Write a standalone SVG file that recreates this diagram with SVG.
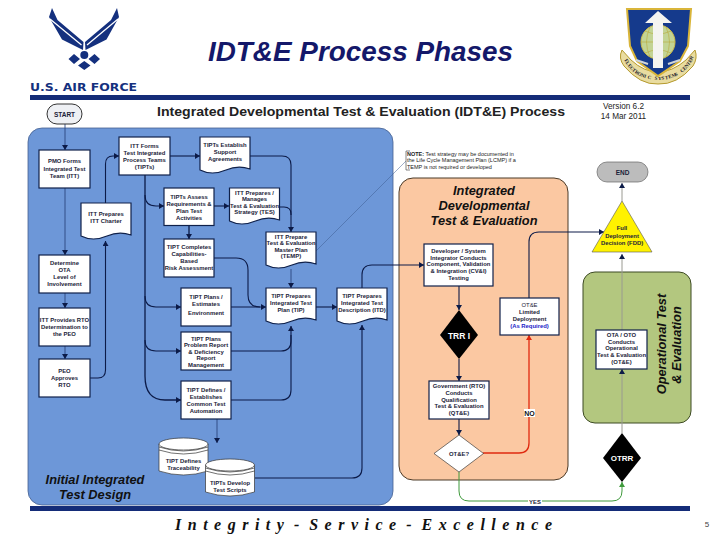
<svg xmlns="http://www.w3.org/2000/svg" width="720" height="540" viewBox="0 0 720 540">
<style>
text{font-family:"Liberation Sans",Arial,sans-serif}
.n{font-size:5.9px;font-weight:bold;fill:#1a2238;text-anchor:middle}
.box{fill:#fff;stroke:#10214a;stroke-width:1.2}
.dk{fill:none;stroke:#0c1b48;stroke-width:1.1}
.th{fill:none;stroke:#2a4680;stroke-width:.9}
.gr{fill:none;stroke:#9a9a92;stroke-width:1}
.bar{fill:#142c78}
.h{font-size:12.800px;font-weight:bold;font-style:italic;fill:#111;text-anchor:middle}
.cyl{fill:#fff;stroke:#333;stroke-width:.7}
</style>
<defs>
<marker id="a" markerUnits="userSpaceOnUse" markerWidth="6" markerHeight="6" refX="5" refY="3" orient="auto"><path d="M0 0L5 3L0 6Z" fill="#0c1b48"/></marker>
<marker id="r" markerUnits="userSpaceOnUse" markerWidth="6" markerHeight="6" refX="5" refY="3" orient="auto"><path d="M0 0L5 3L0 6Z" fill="#e02a10"/></marker>
<marker id="g" markerUnits="userSpaceOnUse" markerWidth="6" markerHeight="6" refX="5" refY="3" orient="auto"><path d="M0 0L5 3L0 6Z" fill="#3f9a3c"/></marker>
<path id="doc" d="M0 0H50V32Q38 28 26 33Q12 39 0 33Z" class="box"/>
<g id="can"><path d="M0 6V33Q24.500 41 49 33V6" class="cyl"/><ellipse cx="24.500" cy="6" rx="24.500" ry="6" class="cyl"/><path d="M0 9Q24.500 17 49 9M0 12Q24.500 20 49 12" class="cyl" style="fill:none"/></g>
</defs>
<rect width="720" height="540" fill="#fff"/>

<g id="logo">
<path d="M52 8L57.500 20L83.500 42L83 50L62 39.500L49 17Z" fill="#14307e"/>
<path d="M117 8L111 20L85 42L85.500 50L106.500 39.500L119 17Z" fill="#14307e"/>
<path d="M50 19L81.500 45M118 19L87 45" stroke="#fff" stroke-width="1.300" fill="none"/>
<circle cx="84.300" cy="55" r="4" fill="#14307e"/>
<path d="M68.500 59L74 54L80 59L74 64ZM88.500 59L94.500 54L100 59L94.500 64ZM84.300 61L90.500 65.500L84.300 70L78 65.500Z" fill="#14307e"/>
<text x="30" y="91" font-size="11" font-weight="bold" fill="#14307e" textLength="107" lengthAdjust="spacingAndGlyphs" style="font-family:'DejaVu Sans',sans-serif">U.S. AIR FORCE</text>
</g>

<g id="emblem">
<path d="M622 50Q618 58 624 66Q640 85 658 84Q677 85 693 66Q698 58 695 50L686 60Q672 72 658 72Q644 72 631 60Z" fill="#e9dca0" stroke="#b59a2e" stroke-width="1"/>
<path d="M627 9H691L688 46L680 61L658 76L637 61L630 46Z" fill="#153a8c" stroke="#d9b53a" stroke-width="2"/>
<circle cx="658" cy="42" r="17" fill="#c3d494" stroke="#d4c14a" stroke-width="1"/>
<path d="M658 25V59M641 42H675M645 31Q658 37 671 31M645 53Q658 47 671 53M650 27Q643 42 650 57M666 27Q673 42 666 57" fill="none" stroke="#b9a93a" stroke-width=".6"/>
<path d="M658 11L672 23H663V68H653V23H645Z" fill="#f4f4f0"/>
<path d="M636 60L648 64M680 60L668 64" stroke="#cfd4d8" stroke-width="2"/>
<text font-size="5" font-weight="bold" fill="#1a1a2a" style="font-family:'Liberation Serif',serif" x="624.2 625.6 627.4 629.4 631.8 634.5 637.3 640.4 643.7 647.2 650.7 654.4 658 661.6 665.3 668.8 672.3 675.6 678.7 681.5 684.2 686.6 688.6 690.4 691.8" y="60.3 63.1 65.8 68.3 70.6 72.7 74.6 76.2 77.5 78.6 79.4 79.8 80 79.8 79.4 78.6 77.5 76.2 74.6 72.7 70.6 68.3 65.8 63.1 60.3" rotate="56 51 47 42 37 33 28 23 19 14 9 5 0 -5 -9 -14 -19 -23 -28 -33 -37 -42 -47 -51 -56">ELECTRONIC SYSTEMS CENTER</text>
</g>

<text id="title" x="360.500" y="61" font-size="27" font-weight="bold" font-style="italic" fill="#14186a" text-anchor="middle" textLength="305" lengthAdjust="spacingAndGlyphs">IDT&amp;E Process Phases</text>
<rect class="bar" x="30" y="95" width="660" height="5"/>
<text x="361" y="116" font-size="13.300" font-weight="bold" fill="#222" text-anchor="middle" textLength="408" lengthAdjust="spacingAndGlyphs">Integrated Developmental Test &amp; Evaluation (IDT&amp;E) Process</text>
<text x="623.500" y="109" font-size="8.200" fill="#222" text-anchor="middle">Version 6.2</text>
<text x="623.500" y="119" font-size="8.200" fill="#222" text-anchor="middle">14 Mar 2011</text>

<rect id="panel-blue" x="28" y="128" width="365" height="377" rx="14" fill="#6d97d8" stroke="#46618f" stroke-width=".8"/>
<rect id="panel-orange" x="399" y="178" width="169" height="302" rx="14" fill="#fbc8a2" stroke="#4a3a28" stroke-width="1"/>
<rect id="panel-green" x="583" y="272" width="108" height="151" rx="12" fill="#b3c77f" stroke="#3d4a24" stroke-width="1"/>

<g id="connectors">
<path class="th" marker-end="url(#a)" d="M65 124V150"/>
<path class="th" marker-end="url(#a)" d="M65 188V255"/>
<path class="th" marker-end="url(#a)" d="M65 293V308"/>
<path class="th" marker-end="url(#a)" d="M65 346V359"/>
<path class="dk" marker-end="url(#a)" d="M90 378H98Q105.500 378 105.500 370V241"/>
<path class="dk" marker-end="url(#a)" d="M105.500 203V164Q105.500 156 113 156H119"/>
<path class="dk" marker-end="url(#a)" d="M170 156H200"/>
<path class="dk" d="M250 156H282Q291 156 291 165V215"/>
<path class="dk" marker-end="url(#a)" d="M280 207H284Q291 207 291 214V232"/>
<path d="M145 175V376Q145 400 165 400H181" fill="none" stroke="#0c1b48" stroke-width="1.300" marker-end="url(#a)"/>
<path class="dk" marker-end="url(#a)" d="M145 195Q145 206 156 206H164"/>
<path class="dk" marker-end="url(#a)" d="M145 296Q145 307 156 307H181"/>
<path class="dk" marker-end="url(#a)" d="M145 340Q145 351 156 351H181"/>
<path class="dk" marker-end="url(#a)" d="M214 206H229"/>
<path d="M189 225V239" fill="none" stroke="#0c1b48" stroke-width="1.300" marker-end="url(#a)"/>
<path class="dk" d="M214 258H236Q248 258 248 270V295Q248 307 260 307"/>
<path class="dk" marker-end="url(#a)" d="M231 307H266"/>
<path class="dk" marker-end="url(#a)" d="M231 351H281Q291 351 291 341V326"/>
<path class="dk" d="M231 400H281Q291 400 291 390V335"/>
<path class="th" marker-end="url(#a)" d="M217 419V443"/>
<path class="dk" marker-end="url(#a)" d="M255 478H352Q362 478 362 468V325"/>
<path class="th" marker-end="url(#a)" d="M291 269V288"/>
<path class="dk" marker-end="url(#a)" d="M316 307H337"/>
<path class="dk" marker-end="url(#a)" d="M362 288V275Q362 265 372 265H424"/>
<path class="dk" marker-end="url(#a)" d="M459 286V310"/>
<path class="dk" marker-end="url(#a)" d="M459 359V381"/>
<path class="dk" marker-end="url(#a)" d="M459 419V435"/>
<path fill="none" stroke="#e02a10" stroke-width="1.300" marker-end="url(#r)" d="M483 453H519Q529 453 529 443V335"/>
<path fill="none" stroke="#3f9a3c" stroke-width="1" marker-end="url(#g)" d="M459 472V491Q459 501 469 501H612Q622 501 622 491V482"/>
<path class="gr" marker-end="url(#a)" d="M622 433V369"/>
<path class="gr" marker-end="url(#a)" d="M622 330V254"/>
<path class="gr" marker-end="url(#a)" d="M622 201V183"/>
<path class="dk" marker-end="url(#a)" d="M529 298V242Q529 232 539 232H604"/>
<path d="M316 251L406 161" fill="none" stroke="#3c5a90" stroke-width=".5"/>
</g>

<g id="start"><rect x="47" y="104" width="35" height="20" rx="10" fill="#eef0f4" stroke="#333" stroke-width="1"/><text class="n" x="64.500" y="116.500" style="font-size:6.500px">START</text></g>
<g id="pmo"><rect class="box" x="39" y="150" width="51" height="38"/><text class="n" x="64.500" y="163">PMO Forms</text><text class="n" x="64.500" y="170.500">Integrated Test</text><text class="n" x="64.500" y="178">Team (ITT)</text></g>
<g id="itt-forms"><rect class="box" x="119" y="137" width="51" height="38"/><text class="n" x="144.500" y="148">ITT Forms</text><text class="n" x="144.500" y="155">Test Integrated</text><text class="n" x="144.500" y="162">Process Teams</text><text class="n" x="144.500" y="169">(TIPTs)</text></g>
<g id="tipt-support"><use href="#doc" x="200" y="137"/><text class="n" x="225" y="147">TIPTs Establish</text><text class="n" x="225" y="154">Support</text><text class="n" x="225" y="161">Agreements</text></g>
<g id="itt-charter"><use href="#doc" x="81" y="203"/><text class="n" x="106" y="216">ITT Prepares</text><text class="n" x="106" y="223">ITT Charter</text></g>
<g id="tipt-assess"><rect class="box" x="164" y="188" width="50" height="37.500"/><text class="n" x="189" y="198.500">TIPTs Assess</text><text class="n" x="189" y="205.500">Requirements &amp;</text><text class="n" x="189" y="212.500">Plan Test</text><text class="n" x="189" y="219.500">Activities</text></g>
<g id="tes"><use href="#doc" x="229.500" y="188"/><text class="n" x="254.500" y="194.500">ITT Prepares /</text><text class="n" x="254.500" y="201">Manages</text><text class="n" x="254.500" y="207.500">Test &amp; Evaluation</text><text class="n" x="254.500" y="214">Strategy (TES)</text></g>
<g id="tipt-risk"><rect class="box" x="164" y="239" width="50" height="38"/><text class="n" x="189" y="249">TIPT Completes</text><text class="n" x="189" y="256">Capabilities-</text><text class="n" x="189" y="263">Based</text><text class="n" x="189" y="270">Risk Assessment</text></g>
<g id="determine"><rect class="box" x="39" y="255" width="51" height="38"/><text class="n" x="64.500" y="265">Determine</text><text class="n" x="64.500" y="272">OTA</text><text class="n" x="64.500" y="279">Level of</text><text class="n" x="64.500" y="286">Involvement</text></g>
<g id="temp"><use href="#doc" x="266" y="232"/><text class="n" x="291" y="238.500">ITT Prepare</text><text class="n" x="291" y="245">Test &amp; Evaluation</text><text class="n" x="291" y="251.500">Master Plan</text><text class="n" x="291" y="258">(TEMP)</text></g>
<g id="tipt-env"><rect class="box" x="181" y="288" width="50" height="38"/><text class="n" x="206" y="298.500">TIPT Plans /</text><text class="n" x="206" y="306">Estimates</text><text class="n" x="206" y="315">Environment</text></g>
<g id="tip"><use href="#doc" x="266" y="288"/><text class="n" x="291" y="298">TIPT Prepares</text><text class="n" x="291" y="305">Integrated Test</text><text class="n" x="291" y="312">Plan (TIP)</text></g>
<g id="itd"><use href="#doc" x="337" y="288"/><text class="n" x="362" y="298">TIPT Prepares</text><text class="n" x="362" y="305">Integrated Test</text><text class="n" x="362" y="312">Description (ITD)</text></g>
<g id="itt-rto"><rect class="box" x="39" y="308" width="51" height="38"/><text class="n" x="64.500" y="322">ITT Provides RTO</text><text class="n" x="64.500" y="329">Determination to</text><text class="n" x="64.500" y="336">the PEO</text></g>
<g id="peo"><rect class="box" x="39" y="359" width="51" height="38"/><text class="n" x="64.500" y="372.500">PEO</text><text class="n" x="64.500" y="379.500">Approves</text><text class="n" x="64.500" y="386.500">RTO</text></g>
<g id="tipt-problem"><rect class="box" x="181" y="332" width="50" height="38"/><text class="n" x="206" y="340.500">TIPT Plans</text><text class="n" x="206" y="347">Problem Report</text><text class="n" x="206" y="353.500">&amp; Deficiency</text><text class="n" x="206" y="360">Report</text><text class="n" x="206" y="366.500">Management</text></g>
<g id="tipt-auto"><rect class="box" x="181" y="381" width="50" height="38"/><text class="n" x="206" y="391.500">TIPT Defines /</text><text class="n" x="206" y="398.500">Establishes</text><text class="n" x="206" y="405.500">Common Test</text><text class="n" x="206" y="412.500">Automation</text></g>
<g id="trace"><use href="#can" x="159" y="438"/><text class="n" x="183.500" y="463">TIPT Defines</text><text class="n" x="183.500" y="470">Traceability</text></g>
<g id="scripts"><use href="#can" x="205.500" y="459"/><text class="n" x="230" y="484.500">TIPTs Develop</text><text class="n" x="230" y="491.500">Test Scripts</text></g>
<text class="h" x="95" y="484">Initial Integrated</text>
<text class="h" x="95" y="499">Test Design</text>

<g id="note"><path d="M410 151H406V170H410" fill="none" stroke="#333" stroke-width=".6"/><text x="407" y="155.500" font-size="5.500" fill="#222"><tspan font-weight="bold">NOTE:</tspan>  Test strategy may be documented in</text><text x="407" y="162" font-size="5.500" fill="#222">the Life Cycle Management Plan (LCMP) if a</text><text x="407" y="168.500" font-size="5.500" fill="#222">TEMP is not required or developed</text></g>

<text class="h" x="484" y="195">Integrated</text>
<text class="h" x="484" y="210">Developmental</text>
<text class="h" x="484" y="224.500">Test &amp; Evaluation</text>

<g id="dev"><rect class="box" x="424" y="244" width="69" height="42"/><text class="n" x="458.500" y="252.500">Developer / System</text><text class="n" x="458.500" y="259.500">Integrator Conducts</text><text class="n" x="458.500" y="266">Component, Validation</text><text class="n" x="458.500" y="273">&amp; Integration (CV&amp;I)</text><text class="n" x="458.500" y="280">Testing</text></g>
<g id="trr"><path d="M459 310L478 335L459 359L440 335Z" fill="#000"/><text x="459" y="338.500" font-size="8.500" font-weight="bold" fill="#fff" text-anchor="middle">TRR I</text></g>
<g id="limited"><rect class="box" x="500" y="298" width="59" height="37"/><text class="n" x="529.500" y="307" style="font-weight:normal">OT&amp;E</text><text class="n" x="529.500" y="314">Limited</text><text class="n" x="529.500" y="321">Deployment</text><text class="n" x="529.500" y="328" style="fill:#1b22c8">(As Required)</text></g>
<g id="gov"><rect class="box" x="429" y="381" width="60" height="38"/><text class="n" x="459" y="387.500">Government (RTO)</text><text class="n" x="459" y="394.500">Conducts</text><text class="n" x="459" y="401.500">Qualification</text><text class="n" x="459" y="408">Test &amp; Evaluation</text><text class="n" x="459" y="415">(QT&amp;E)</text></g>
<g id="qte"><path d="M459 435L483.500 453.500L459 472L434 453.500Z" fill="#fff" stroke="#222" stroke-width=".6"/><text class="n" x="459" y="455.500">OT&amp;E?</text></g>
<g id="no"><rect x="524" y="409" width="11" height="8" fill="#fff"/><text x="529.500" y="416" font-size="7" font-weight="bold" fill="#111" text-anchor="middle">NO</text></g>
<g id="yes"><rect x="528" y="498" width="14" height="6" fill="#fff"/><text class="n" x="535" y="503.500">YES</text></g>
<g id="otrr"><path d="M622 433L641 458L622 482L603 458Z" fill="#000"/><text x="622" y="461" font-size="8" font-weight="bold" fill="#fff" text-anchor="middle">OTRR</text></g>
<g id="ota"><rect class="box" x="596" y="330" width="51" height="39"/><text class="n" x="621.500" y="337">OTA / OTO</text><text class="n" x="621.500" y="343.500">Conducts</text><text class="n" x="621.500" y="350">Operational</text><text class="n" x="621.500" y="356.500">Test &amp; Evaluation</text><text class="n" x="621.500" y="363.500">(OT&amp;E)</text></g>
<g id="fdd"><path d="M622 201L652 252H592Z" fill="#fff200" stroke="#555" stroke-width=".6"/><text class="n" x="622" y="230">Full</text><text class="n" x="622" y="237.500">Deployment</text><text class="n" x="622" y="245">Decision (FDD)</text></g>
<g id="end"><rect x="597" y="162" width="51" height="20" rx="10" fill="#bcbcbc" stroke="#666" stroke-width=".7"/><text class="n" x="622.500" y="174.500" style="font-size:6.500px">END</text></g>
<text class="h" transform="rotate(-90 666 344)" x="666" y="344">Operational Test</text>
<text class="h" transform="rotate(-90 681 345)" x="681" y="345">&amp; Evaluation</text>

<rect class="bar" x="30" y="506" width="660" height="5"/>
<text id="motto" x="175" y="530" font-size="16" font-weight="bold" font-style="italic" fill="#111" letter-spacing="6.500" word-spacing="-7" style="font-family:'Liberation Serif',serif">Integrity - Service - Excellence</text>
<text x="707" y="527" font-size="8" fill="#444" text-anchor="middle">5</text>
</svg>
